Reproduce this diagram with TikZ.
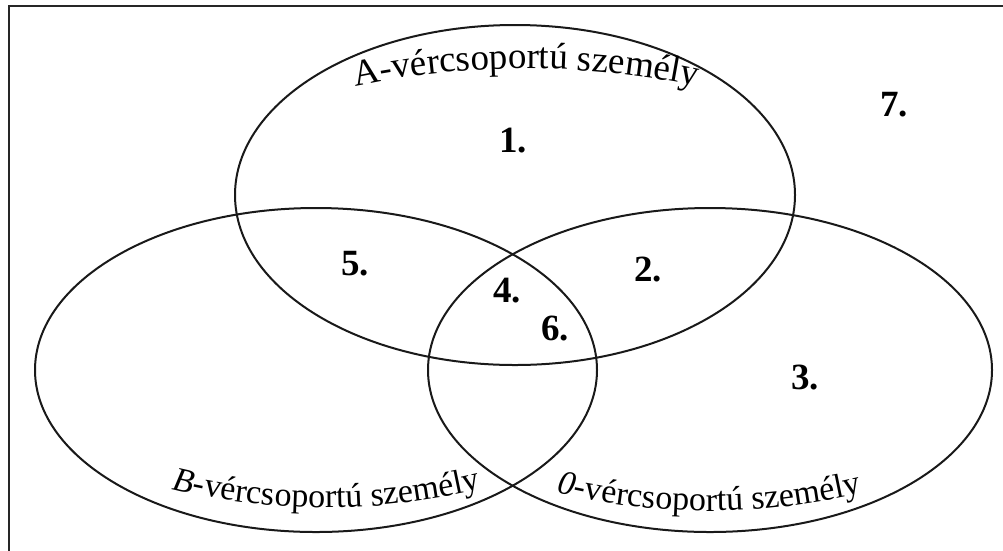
\documentclass[tikz,border=0pt]{standalone}
\usepackage{fontspec}
\setmainfont{Liberation Serif}
\usetikzlibrary{decorations.text}
\begin{document}
\begin{tikzpicture}[x=1pt,y=1pt,
  setline/.style={line width=2pt, draw=black!90},
  num/.style={font=\fontsize{37}{40}\selectfont\bfseries, anchor=base, inner sep=0pt},
  frameline/.style={line width=2.8pt, draw=black!85}]
\useasboundingbox (0,0) rectangle (1003,-550);
\draw[frameline] (9,-551) -- (9,-6) -- (1004,-6);
% sets
\draw[setline] (515,-195) ellipse [x radius=280, y radius=170];
\draw[setline] (316,-370) ellipse [x radius=281, y radius=162];
\draw[setline] (710,-370) ellipse [x radius=282, y radius=162];
% region numbers
\node[num] (n1) at (513,-152) {1.};
\node[num] (n2) at (648,-281) {2.};
\node[num] (n3) at (805,-389) {3.};
\node[num] (n4) at (507,-302) {4.};
\node[num] (n5) at (355,-275) {5.};
\node[num] (n6) at (555,-340) {6.};
\node[num] (n7) at (894,-116) {7.};
% set labels along curves
\path[decorate, decoration={text along path, text align=center,
  text={|\fontsize{37}{40}\selectfont|A-vércsoportú személy}}]
  (334,-91) .. controls (455,-61.3) and (597,-61.3) .. (718,-91);
\path[decorate, decoration={text along path, text align=center,
  text={|\fontsize{34}{40}\selectfont\itshape|B|\fontsize{34}{40}\selectfont|-vércsoportú személy}}]
  (160,-486) .. controls (270,-514.7) and (383,-514.7) .. (493,-486);
\path[decorate, decoration={text along path, text align=center,
  text={|\fontsize{34}{40}\selectfont\itshape|0|\fontsize{34}{40}\selectfont|-vércsoportú személy}}]
  (545,-490) .. controls (655,-518) and (763,-518) .. (873,-490);
\end{tikzpicture}
\end{document}
